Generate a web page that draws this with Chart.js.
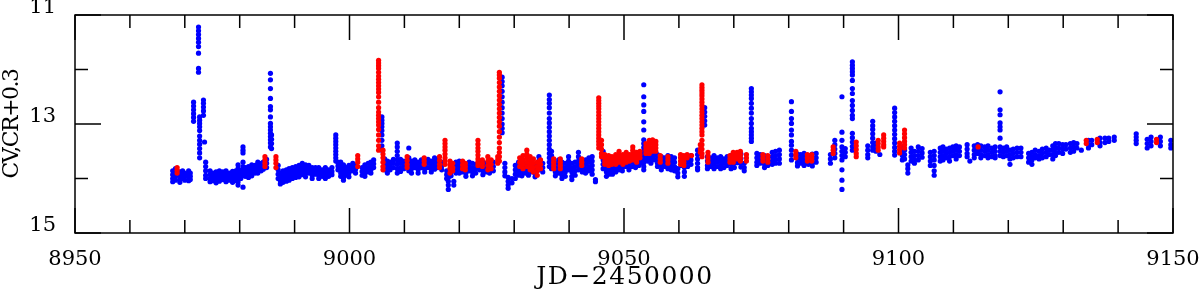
<!DOCTYPE html>
<html>
<head>
<meta charset="utf-8">
<script src="https://cdn.jsdelivr.net/npm/chart.js@4"></script>
<style>
  html, body { margin: 0; padding: 0; background: #fff; }
  #wrap { width: 1200px; height: 289px; }
</style>
</head>
<body>
<div id="wrap"><canvas id="lc" width="1200" height="289"></canvas></div>
<script>
// ===== DATA (JD-2450000, magnitude) — one row per night: [jd, mag, mag, ...] =====
const blueNights = [
    [8967.8, 13.86, 13.93, 14.0, 14.06],
    [8968.3, 13.82, 13.9, 13.97, 14.03],
    [8969.1, 13.88, 13.95, 14.02, 14.07],
    [8969.6, 13.86, 13.93, 14.0],
    [8970.0, 13.9, 13.96, 14.03],
    [8970.7, 13.86, 13.92, 13.98, 14.04],
    [8971.0, 13.9, 13.96, 14.02],
    [8971.6, 12.6, 12.67, 12.74, 12.81, 12.88, 12.95],
    [8972.5, 11.22, 11.29, 11.36, 11.43, 11.5, 11.58, 11.7, 11.98, 12.05],
    [8972.7, 12.87, 12.93, 12.99, 13.05, 13.12, 13.22, 13.3, 13.37, 13.45, 13.53, 13.62],
    [8973.4, 12.56, 12.62, 12.69, 12.76, 12.84],
    [8973.6, 13.33],
    [8973.8, 13.7, 13.78, 13.86, 13.94, 14.0],
    [8974.6, 13.86, 13.93, 14.0, 14.06],
    [8975.1, 13.9, 13.97, 14.04],
    [8975.7, 13.88, 13.95, 14.02, 14.08],
    [8976.3, 13.86, 13.92, 13.99, 14.05],
    [8976.9, 13.88, 13.95, 14.02],
    [8977.5, 13.86, 13.93, 14.0, 14.06],
    [8978.1, 13.9, 13.96, 14.03],
    [8978.7, 13.87, 13.94, 14.01, 14.07],
    [8979.3, 13.86, 13.92, 13.98, 14.04],
    [8979.7, 13.75, 13.82, 13.9, 13.98, 14.06, 14.12],
    [8980.2, 13.85, 13.92, 14.0],
    [8980.6, 13.42, 13.48, 13.53, 13.7, 13.78, 13.86, 13.94, 14.16],
    [8981.0, 13.8, 13.88, 13.96],
    [8981.6, 13.78, 13.85, 13.92, 13.98],
    [8982.2, 13.75, 13.82, 13.9, 13.95],
    [8982.8, 13.76, 13.83, 13.9],
    [8983.3, 13.7, 13.77, 13.84, 13.9],
    [8983.9, 13.72, 13.79, 13.86],
    [8984.3, 13.7, 13.76, 13.83],
    [8984.9, 13.65, 13.72, 13.8],
    [8985.6, 12.07, 12.19, 12.35, 12.53, 12.68, 12.74, 12.87, 12.99, 13.05, 13.11, 13.17, 13.23, 13.29, 13.35, 13.42],
    [8985.8, 13.2, 13.28, 13.36, 13.45],
    [8987.0, 13.76, 13.84, 13.92, 14.0],
    [8987.4, 13.9, 13.97, 14.04, 14.1],
    [8987.9, 13.86, 13.93, 14.0, 14.07],
    [8988.5, 13.84, 13.91, 13.98, 14.05],
    [8989.0, 13.82, 13.89, 13.96, 14.03],
    [8989.6, 13.8, 13.87, 13.94, 14.0],
    [8990.2, 13.78, 13.85, 13.92, 13.98],
    [8990.8, 13.76, 13.83, 13.9, 13.97],
    [8991.4, 13.72, 13.79, 13.86, 13.93],
    [8992.0, 13.75, 13.82, 13.9, 13.97],
    [8992.6, 13.76, 13.83, 13.9],
    [8993.2, 13.8, 13.87, 13.94, 14.0],
    [8993.8, 13.8, 13.86, 13.92],
    [8994.4, 13.8, 13.87, 13.94, 14.0],
    [8995.0, 13.84, 13.9, 13.96],
    [8995.6, 13.8, 13.87, 13.94, 14.0],
    [8996.2, 13.84, 13.9, 13.96],
    [8996.8, 13.8, 13.87, 13.93],
    [8997.5, 13.2, 13.26, 13.32, 13.38, 13.44, 13.5, 13.56, 13.62, 13.68],
    [8997.9, 13.7, 13.77, 13.84],
    [8998.4, 13.7, 13.77, 13.84, 13.9, 13.96],
    [8998.9, 13.75, 13.82, 13.9, 13.98, 14.03],
    [8999.4, 13.8, 13.87, 13.94],
    [8999.9, 13.76, 13.83, 13.9, 13.97],
    [9000.6, 13.72, 13.79, 13.86],
    [9001.1, 13.76, 13.83, 13.9],
    [9002.3, 13.8, 13.87, 13.94],
    [9002.8, 13.75, 13.82, 13.9, 13.96],
    [9003.4, 13.72, 13.8, 13.88],
    [9003.9, 13.7, 13.77, 13.84, 13.9],
    [9004.4, 13.66, 13.73, 13.8],
    [9005.9, 12.87, 12.93, 12.99, 13.05, 13.12, 13.2, 13.3, 13.4, 13.48],
    [9006.4, 13.64, 13.7, 13.77, 13.84],
    [9006.9, 13.68, 13.75, 13.82, 13.9],
    [9007.4, 13.7, 13.77, 13.84],
    [9008.0, 13.65, 13.72, 13.8],
    [9008.7, 13.35, 13.42, 13.5, 13.58, 13.66, 13.74, 13.82, 13.9],
    [9009.3, 13.65, 13.72, 13.8, 13.87],
    [9009.9, 13.68, 13.75, 13.82],
    [9010.8, 13.44, 13.62, 13.7, 13.78, 13.86],
    [9011.3, 13.68, 13.75, 13.82, 13.9],
    [9011.9, 13.66, 13.73, 13.8],
    [9012.5, 13.7, 13.77, 13.84, 13.9],
    [9013.1, 13.66, 13.73, 13.8],
    [9013.7, 13.68, 13.75, 13.82, 13.88],
    [9014.3, 13.65, 13.72, 13.8],
    [9014.9, 13.68, 13.75, 13.82, 13.88],
    [9015.5, 13.62, 13.69, 13.76, 13.83],
    [9016.1, 13.66, 13.73, 13.8],
    [9016.8, 13.7, 13.77, 13.84],
    [9017.7, 13.86, 13.93, 14.0],
    [9018.0, 13.98, 14.05, 14.12, 14.2],
    [9018.5, 13.72, 13.8, 13.88, 13.95],
    [9019.0, 14.05, 14.12],
    [9019.4, 13.7, 13.77, 13.84, 13.9],
    [9020.0, 13.68, 13.75, 13.82, 13.9],
    [9020.6, 13.72, 13.8, 13.88],
    [9021.2, 13.75, 13.82, 13.9, 13.96],
    [9021.8, 13.7, 13.78, 13.86],
    [9022.4, 13.72, 13.8, 13.88, 13.95],
    [9023.0, 13.74, 13.82, 13.9],
    [9023.7, 13.68, 13.76, 13.84],
    [9024.3, 13.7, 13.78, 13.86, 13.93],
    [9024.9, 13.72, 13.8, 13.88],
    [9025.5, 13.68, 13.75, 13.82, 13.9],
    [9026.2, 13.7, 13.78, 13.86],
    [9027.8, 12.14, 12.22, 12.3, 12.4, 12.5, 12.6, 12.7, 12.8, 12.9, 13.0, 13.08, 13.16],
    [9028.3, 13.72, 13.8, 13.88, 13.95],
    [9028.9, 13.98, 14.05, 14.12, 14.18],
    [9029.6, 14.0, 14.08],
    [9030.2, 13.76, 13.84, 13.92, 14.0],
    [9030.8, 13.7, 13.78, 13.86, 13.94],
    [9031.4, 13.72, 13.8, 13.88, 13.95],
    [9032.0, 13.74, 13.82, 13.9],
    [9032.6, 13.7, 13.78, 13.86, 13.94],
    [9033.2, 13.72, 13.8, 13.88],
    [9033.8, 13.74, 13.82, 13.9, 13.97],
    [9034.5, 13.6, 13.68, 13.76, 13.84],
    [9035.2, 13.72, 13.8, 13.88],
    [9036.4, 12.47, 12.55, 12.62, 12.7, 12.8, 12.9, 12.98, 13.06, 13.14, 13.22, 13.3, 13.38, 13.46, 13.54, 13.62, 13.7, 13.78],
    [9036.8, 13.5, 13.58, 13.66, 13.74, 13.82],
    [9037.5, 13.72, 13.8, 13.88, 13.95],
    [9038.1, 13.66, 13.74, 13.82, 13.9],
    [9038.7, 13.7, 13.78, 13.86, 13.94, 14.0],
    [9039.3, 13.72, 13.8, 13.88, 13.96],
    [9039.9, 13.6, 13.68, 13.76, 13.84],
    [9040.5, 13.72, 13.8, 13.88, 13.96, 14.02],
    [9041.1, 13.7, 13.78, 13.86, 13.94],
    [9041.7, 13.52, 13.6, 13.68, 13.76, 13.84],
    [9042.4, 13.72, 13.8, 13.88],
    [9043.0, 13.66, 13.74, 13.82, 13.9],
    [9043.6, 13.62, 13.7, 13.78, 13.86],
    [9044.2, 13.6, 13.68, 13.76, 13.84, 13.92],
    [9044.8, 14.02, 14.06],
    [9046.2, 13.5, 13.58, 13.66, 13.74, 13.82],
    [9046.8, 13.72, 13.8, 13.88, 13.96],
    [9047.3, 13.76, 13.84, 13.92],
    [9047.9, 13.7, 13.78, 13.86, 13.92],
    [9048.5, 13.66, 13.74, 13.82, 13.88],
    [9049.1, 13.68, 13.76, 13.84],
    [9049.7, 13.64, 13.72, 13.8, 13.86],
    [9050.3, 13.62, 13.7, 13.78],
    [9050.9, 13.6, 13.68, 13.76, 13.84],
    [9051.5, 13.62, 13.7, 13.78],
    [9052.1, 13.58, 13.66, 13.74, 13.8],
    [9052.7, 13.6, 13.68, 13.76],
    [9053.1, 13.56, 13.64, 13.72],
    [9053.6, 12.28, 12.5, 12.65, 12.77, 12.96, 13.11, 13.29, 13.36, 13.43, 13.5, 13.57, 13.64, 13.71, 13.78, 13.84],
    [9054.3, 13.44, 13.52, 13.6, 13.68],
    [9054.9, 13.48, 13.56, 13.64, 13.72],
    [9055.5, 13.5, 13.58, 13.66],
    [9056.1, 13.56, 13.64, 13.72, 13.78],
    [9056.8, 13.6, 13.68, 13.76, 13.84],
    [9057.4, 13.62, 13.7, 13.78],
    [9058.0, 13.58, 13.66, 13.74, 13.82],
    [9058.6, 13.6, 13.68, 13.76, 13.84],
    [9059.2, 13.62, 13.7, 13.78, 13.86],
    [9059.8, 13.82, 13.9, 13.97],
    [9060.4, 13.6, 13.68, 13.76],
    [9061.0, 13.64, 13.72, 13.8, 13.88, 13.96],
    [9061.6, 13.62, 13.7, 13.78],
    [9062.2, 13.58, 13.66, 13.74],
    [9063.4, 13.48, 13.56, 13.64, 13.72, 13.8, 13.84],
    [9064.7, 12.7, 12.78, 12.86, 12.94, 13.02],
    [9065.2, 13.6, 13.68, 13.76, 13.82],
    [9065.8, 13.62, 13.7, 13.78],
    [9066.4, 13.58, 13.66, 13.74, 13.82],
    [9067.0, 13.62, 13.7, 13.78],
    [9067.6, 13.6, 13.68, 13.76, 13.82],
    [9068.2, 13.64, 13.72, 13.8],
    [9068.8, 13.6, 13.68, 13.76],
    [9069.5, 13.58, 13.66, 13.74, 13.82],
    [9070.1, 13.56, 13.64, 13.72, 13.8],
    [9070.7, 13.55, 13.63, 13.71],
    [9071.3, 13.55, 13.63, 13.71, 13.79],
    [9071.9, 13.72, 13.8, 13.86],
    [9073.2, 12.35, 12.41, 12.47, 12.53, 12.62, 12.71, 12.8, 12.9, 12.99, 13.08, 13.14, 13.2, 13.26, 13.32],
    [9074.2, 13.54, 13.62, 13.7, 13.76],
    [9074.8, 13.56, 13.64, 13.72],
    [9075.6, 13.58, 13.66, 13.74, 13.8],
    [9076.2, 13.6, 13.68, 13.76],
    [9077.0, 13.52, 13.6, 13.68, 13.74],
    [9077.6, 13.5, 13.58, 13.66, 13.72],
    [9078.3, 13.48, 13.56, 13.64, 13.72],
    [9080.5, 12.59, 12.77, 12.9, 12.99, 13.11, 13.2, 13.32, 13.39, 13.48, 13.57, 13.66],
    [9081.6, 13.55, 13.63, 13.71, 13.77],
    [9082.2, 13.56, 13.64, 13.72],
    [9082.8, 13.54, 13.62, 13.7, 13.76],
    [9083.6, 13.58, 13.66, 13.74],
    [9084.3, 13.55, 13.63, 13.71, 13.77],
    [9085.0, 13.54, 13.62, 13.7],
    [9087.6, 13.56, 13.64, 13.72],
    [9088.4, 13.3, 13.38, 13.46, 13.54, 13.62],
    [9089.7, 12.5, 13.15, 13.3, 13.42, 13.5, 13.58, 13.66, 13.84, 14.03, 14.2],
    [9090.3, 13.45, 13.52, 13.6],
    [9091.6, 11.86, 11.92, 11.98, 12.04, 12.1, 12.2, 12.35, 12.44, 12.57, 12.66, 12.75, 12.84, 12.9, 13.17, 13.25, 13.33, 13.41, 13.48],
    [9094.4, 13.4, 13.48, 13.56, 13.62],
    [9095.3, 12.95, 13.03, 13.1, 13.18, 13.26, 13.34, 13.42, 13.48],
    [9095.9, 13.35, 13.42, 13.5],
    [9096.6, 13.56],
    [9099.3, 12.71, 12.79, 12.87, 12.95, 13.03, 13.11, 13.19, 13.27, 13.35, 13.43, 13.5, 13.57],
    [9100.7, 13.42, 13.5, 13.58, 13.66],
    [9101.1, 13.48, 13.56, 13.64],
    [9101.7, 13.75, 13.82, 13.9],
    [9102.3, 13.44, 13.52, 13.6, 13.68],
    [9102.9, 13.5, 13.58, 13.66, 13.72],
    [9103.6, 13.42, 13.5, 13.58, 13.66],
    [9104.3, 13.45, 13.53, 13.61],
    [9105.8, 13.52, 13.6, 13.68, 13.76],
    [9106.5, 13.5, 13.58, 13.66, 13.76, 13.86, 13.94],
    [9107.6, 13.44, 13.52, 13.6, 13.68],
    [9108.1, 13.42, 13.5, 13.58, 13.66],
    [9108.7, 13.46, 13.54, 13.62],
    [9109.3, 13.44, 13.52, 13.6, 13.68],
    [9109.9, 13.42, 13.5, 13.58],
    [9110.5, 13.4, 13.48, 13.56, 13.64],
    [9111.1, 13.42, 13.5, 13.58],
    [9112.5, 13.38, 13.46, 13.54, 13.6],
    [9113.0, 13.68],
    [9113.8, 13.4, 13.48, 13.56, 13.62],
    [9114.4, 13.38, 13.46, 13.54],
    [9115.0, 13.4, 13.48, 13.56, 13.62],
    [9115.7, 13.42, 13.5, 13.58],
    [9116.3, 13.4, 13.48, 13.56, 13.62],
    [9117.0, 13.44, 13.52, 13.6],
    [9117.6, 13.42, 13.5, 13.58, 13.62],
    [9118.5, 12.41, 12.74, 12.83, 12.98, 13.05, 13.11, 13.26, 13.42, 13.5, 13.58],
    [9119.1, 13.44, 13.52, 13.6],
    [9119.7, 13.42, 13.5, 13.58],
    [9120.3, 13.48, 13.56, 13.64, 13.74],
    [9120.9, 13.46, 13.54, 13.62],
    [9121.6, 13.44, 13.52, 13.6],
    [9122.3, 13.44, 13.52, 13.6],
    [9123.7, 13.54, 13.62, 13.7],
    [9124.3, 13.52, 13.6, 13.66, 13.74],
    [9124.9, 13.48, 13.56, 13.62],
    [9125.6, 13.5, 13.58, 13.64],
    [9126.2, 13.46, 13.54, 13.62],
    [9126.9, 13.44, 13.52, 13.6],
    [9127.5, 13.48, 13.56],
    [9128.1, 13.4, 13.48, 13.56, 13.64],
    [9128.6, 13.36, 13.44, 13.52, 13.58],
    [9129.2, 13.36, 13.44, 13.52],
    [9129.9, 13.38, 13.46, 13.54],
    [9130.5, 13.38, 13.46],
    [9131.3, 13.36, 13.44, 13.52],
    [9131.9, 13.34, 13.42, 13.5],
    [9132.5, 13.36, 13.44],
    [9133.3, 13.48],
    [9134.6, 13.3, 13.38, 13.44],
    [9135.2, 13.3, 13.38],
    [9136.7, 13.26, 13.34, 13.4],
    [9137.6, 13.26, 13.34],
    [9138.3, 13.26, 13.32],
    [9139.3, 13.24, 13.3],
    [9143.3, 13.18, 13.24, 13.3, 13.36],
    [9145.3, 13.28, 13.36, 13.44],
    [9146.0, 13.24, 13.32, 13.4],
    [9147.7, 13.24, 13.32, 13.4],
    [9149.6, 13.3, 13.38, 13.44]
];

const redNights = [
    [8968.6, 13.8, 13.85, 13.9],
    [8984.6, 13.6, 13.66, 13.72, 13.78],
    [8986.6, 13.6, 13.66, 13.72, 13.8],
    [9001.5, 13.58, 13.64, 13.7, 13.78],
    [9005.3, 11.83, 11.88, 11.93, 11.98, 12.05, 12.12, 12.18, 12.24, 12.3, 12.36, 12.42, 12.5, 12.6, 12.7, 12.78, 12.84, 12.9, 12.96, 13.02, 13.1, 13.2, 13.3, 13.4, 13.48],
    [9006.1, 13.48, 13.55, 13.62, 13.7, 13.78, 13.84],
    [9010.5, 13.6, 13.67, 13.74, 13.8],
    [9013.6, 13.62, 13.68, 13.74],
    [9016.4, 13.6, 13.67, 13.74, 13.8],
    [9017.4, 13.3, 13.36, 13.42, 13.48, 13.55, 13.62, 13.68, 13.74],
    [9018.3, 13.68, 13.75, 13.82, 13.9],
    [9018.8, 13.72, 13.8, 13.86],
    [9020.6, 13.68, 13.75, 13.82],
    [9021.1, 13.72, 13.78, 13.84],
    [9023.4, 13.3, 13.37, 13.44, 13.5, 13.57, 13.64, 13.7, 13.76],
    [9024.2, 13.66, 13.72, 13.78],
    [9025.2, 13.6, 13.68, 13.76, 13.84],
    [9025.8, 13.66, 13.74, 13.82],
    [9027.0, 13.6, 13.66, 13.72],
    [9027.3, 12.05, 12.1, 12.16, 12.24, 12.32, 12.4, 12.48, 12.56, 12.64, 12.72, 12.8, 12.88, 12.96, 13.04, 13.14, 13.24, 13.34, 13.44, 13.52, 13.6, 13.68],
    [9031.0, 13.62, 13.7, 13.78],
    [9031.6, 13.58, 13.66, 13.74, 13.82],
    [9032.3, 13.48, 13.55, 13.62, 13.7, 13.78],
    [9032.9, 13.6, 13.68, 13.76, 13.84],
    [9033.5, 13.64, 13.72, 13.8, 13.88],
    [9034.2, 13.7, 13.78, 13.86, 13.94],
    [9034.8, 13.66, 13.74, 13.82],
    [9037.2, 13.64, 13.7, 13.76, 13.82],
    [9038.4, 13.64, 13.7, 13.76, 13.82],
    [9042.3, 13.64, 13.7, 13.76],
    [9045.4, 12.52, 12.57, 12.62, 12.67, 12.72, 12.78, 12.84, 12.9, 12.96, 13.02, 13.08, 13.14, 13.2, 13.26, 13.32, 13.38, 13.44],
    [9045.9, 13.3, 13.38, 13.46, 13.54, 13.6],
    [9046.5, 13.56, 13.62, 13.68, 13.74],
    [9047.2, 13.58, 13.64, 13.7, 13.76],
    [9047.8, 13.6, 13.67, 13.74],
    [9048.5, 13.56, 13.62, 13.68, 13.74],
    [9049.1, 13.5, 13.56, 13.62, 13.7],
    [9049.8, 13.56, 13.62, 13.68, 13.74],
    [9050.4, 13.52, 13.58, 13.64, 13.7],
    [9051.0, 13.56, 13.62, 13.68],
    [9051.6, 13.42, 13.48, 13.54, 13.6, 13.66],
    [9052.3, 13.52, 13.58, 13.64, 13.7],
    [9052.9, 13.5, 13.56, 13.62],
    [9054.0, 13.36, 13.42, 13.48, 13.54],
    [9054.6, 13.3, 13.36, 13.42, 13.48, 13.54],
    [9055.2, 13.29, 13.36, 13.44, 13.5],
    [9055.8, 13.32, 13.38, 13.44, 13.5],
    [9056.6, 13.58, 13.64, 13.7],
    [9058.0, 13.6, 13.66, 13.72],
    [9060.3, 13.56, 13.62, 13.68, 13.74],
    [9060.9, 13.58, 13.64, 13.7, 13.76],
    [9061.5, 13.56, 13.62],
    [9062.3, 13.58],
    [9063.9, 13.38, 13.46, 13.52],
    [9064.2, 12.28, 12.33, 12.38, 12.43, 12.48, 12.54, 12.6, 12.66, 12.72, 12.78, 12.84, 12.9, 12.96, 13.02, 13.08, 13.14, 13.2, 13.3, 13.38, 13.46, 13.54, 13.6],
    [9065.3, 13.52, 13.58, 13.64, 13.7],
    [9069.3, 13.58, 13.64, 13.7],
    [9069.9, 13.52, 13.58, 13.64, 13.7],
    [9070.6, 13.52, 13.58, 13.64],
    [9071.2, 13.5, 13.56, 13.62, 13.68],
    [9072.3, 13.56, 13.62, 13.68],
    [9075.3, 13.56, 13.62, 13.68],
    [9076.2, 13.58, 13.64, 13.7],
    [9081.3, 13.5, 13.56, 13.62],
    [9083.4, 13.56, 13.62, 13.68],
    [9084.2, 13.56, 13.62, 13.68],
    [9088.1, 13.42, 13.48, 13.54],
    [9092.3, 13.33, 13.4, 13.47, 13.54, 13.6],
    [9096.3, 13.3, 13.36, 13.42, 13.48],
    [9097.3, 13.2, 13.26, 13.32, 13.38, 13.42],
    [9100.2, 13.35, 13.41, 13.47, 13.53],
    [9101.1, 13.11, 13.18, 13.25, 13.32, 13.38, 13.44],
    [9114.5, 13.42],
    [9134.2, 13.3, 13.36],
    [9136.2, 13.28, 13.34],
    [9147.0, 13.28, 13.34]
];

// axis ticks and titles
const xLabelTicks = [8950, 9000, 9050, 9100, 9150];
const xMinorTicks = [8960, 8970, 8980, 8990, 9010, 9020, 9030, 9040, 9060, 9070, 9080, 9090, 9110, 9120, 9130, 9140];
const yLabelTicks = [11, 13, 15];
const yMinorTicks = [12, 14];
const xTitle = 'JD\u22122450000';
const yTitle = 'CV,CR+0.3';

function toPoints(nights) {
    return nights.flatMap(row => row.slice(1).map(m => ({ x: row[0], y: m })));
}

// ===== FRAME + INWARD TICKS + AXIS TITLES (PGPLOT look) =====
const frameTicks = {
    id: 'frameTicks',
    afterDraw(chart) {
        const { ctx, chartArea: a, scales: { x, y } } = chart;
        ctx.save();
        ctx.strokeStyle = '#000';
        ctx.lineWidth = 1.5;
        ctx.beginPath();
        const xt = (v, len) => {
            const px = x.getPixelForValue(v);
            ctx.moveTo(px, a.top); ctx.lineTo(px, a.top + len);
            ctx.moveTo(px, a.bottom); ctx.lineTo(px, a.bottom - len);
        };
        const yt = (v, len) => {
            const py = y.getPixelForValue(v);
            ctx.moveTo(a.left, py); ctx.lineTo(a.left + len, py);
            ctx.moveTo(a.right, py); ctx.lineTo(a.right - len, py);
        };
        xLabelTicks.forEach(v => xt(v, 25));
        xMinorTicks.forEach(v => xt(v, 13));
        yLabelTicks.forEach(v => yt(v, 26));
        yMinorTicks.forEach(v => yt(v, 13));
        ctx.stroke();
        ctx.strokeRect(a.left, a.top, a.right - a.left, a.bottom - a.top);

        // axis titles
        ctx.fillStyle = '#000';
        ctx.textAlign = 'center';
        ctx.textBaseline = 'alphabetic';
        ctx.font = "25px 'DejaVu Serif', serif";
        ctx.letterSpacing = '1.5px';
        ctx.fillText(xTitle, (a.left + a.right) / 2 + 1, 284);

        ctx.translate(18, (a.top + a.bottom) / 2);
        ctx.rotate(-Math.PI / 2);
        ctx.font = "22px 'DejaVu Serif', serif";
        ctx.letterSpacing = '-1.5px';
        ctx.fillText(yTitle, 0, 0);
        ctx.restore();
    }
};

Chart.defaults.font.family = "'DejaVu Serif', serif";
Chart.defaults.font.size = 21;
Chart.defaults.color = '#000';

new Chart(document.getElementById('lc'), {
    type: 'scatter',
    data: {
        datasets: [
            {
                label: 'CR',
                data: toPoints(redNights),
                backgroundColor: '#ff0000',
                borderWidth: 0,
                pointRadius: 2.6,
                order: 0
            },
            {
                label: 'CV',
                data: toPoints(blueNights),
                backgroundColor: '#0000ff',
                borderWidth: 0,
                pointRadius: 2.6,
                order: 1
            }
        ]
    },
    options: {
        responsive: false,
        animation: false,
        devicePixelRatio: 1,
        layout: { padding: { top: 15, right: 27, left: 0, bottom: 0 } },
        plugins: {
            legend: { display: false },
            tooltip: { enabled: false }
        },
        scales: {
            x: {
                type: 'linear',
                min: 8950,
                max: 9150,
                grid: { display: false, drawTicks: false },
                border: { display: false },
                afterBuildTicks: s => { s.ticks = xLabelTicks.map(v => ({ value: v })); },
                afterFit: s => {
                    s.height = 56;
                    s.paddingLeft = 0; s.paddingRight = 0;
                },
                ticks: { padding: 14, maxRotation: 0, autoSkip: false, callback: v => String(v) }
            },
            y: {
                type: 'linear',
                min: 11,
                max: 15,
                reverse: true,
                grid: { display: false, drawTicks: false },
                border: { display: false },
                afterBuildTicks: s => { s.ticks = yLabelTicks.map(v => ({ value: v })); },
                afterFit: s => {
                    s.width = 75;
                    s.paddingTop = 0; s.paddingBottom = 0;
                },
                ticks: { padding: 19, labelOffset: -7, autoSkip: false, callback: v => String(v) }
            }
        }
    },
    plugins: [frameTicks]
});
</script>
</body>
</html>
